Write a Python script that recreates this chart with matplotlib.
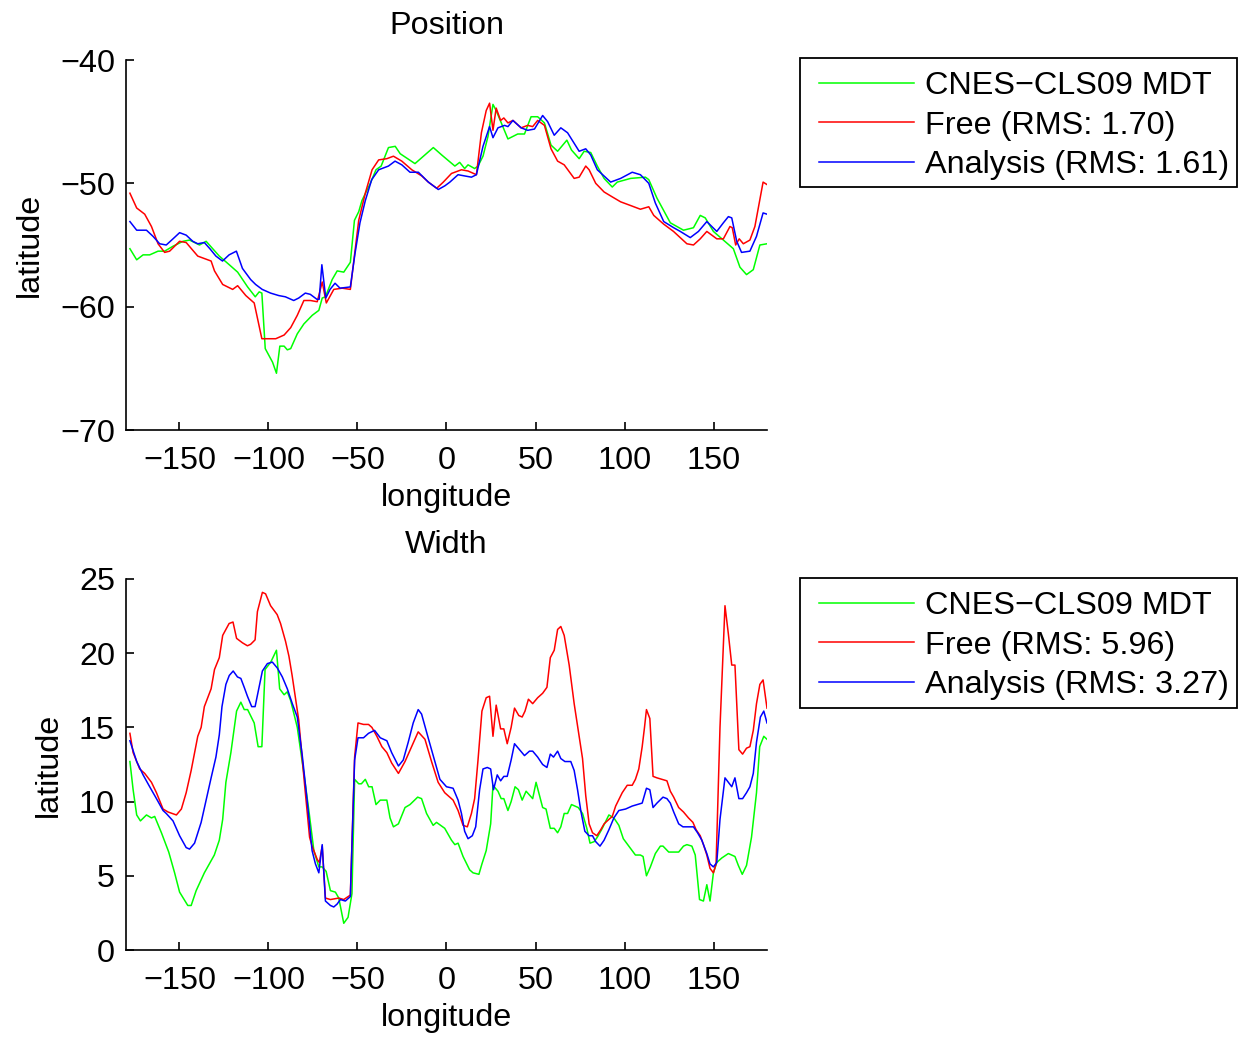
import matplotlib
matplotlib.use("Agg")
import matplotlib.pyplot as plt
from matplotlib.patches import Rectangle

plt.rcParams['font.family'] = ['Liberation Sans', 'DejaVu Sans']

# ---------------- Position (top) ----------------
pos_mdt_lon = [-177.8, -174, -170.4, -166.7, -162, -158.3, -153.6, -148, -144.3, -138.7, -135, -127.6,
               -122, -117.3, -111.7, -107.4, -105.2, -103.7, -101.8, -97.7, -95.5, -93.6, -91.2, -89.4,
               -87.5, -83.8, -80.1, -75.4, -71.7, -69.8, -68, -64.2, -61.4, -57.7, -54, -51.7, -49.3,
               -47.5, -42.8, -39.6, -36.7, -32.6, -28.8, -26, -17.7, -7.4, -2.7, 4.7, 7.4, 10.2, 12.1,
               15.8, 17.7, 20.5, 23.3, 26.1, 27.9, 34.5, 40, 43.8, 47.5, 51.2, 55, 58.7, 62.4, 67.6,
               70.2, 74.5, 77.3, 81, 84.7, 88.5, 93.1, 95.9, 103.4, 111.7, 113.6, 118.2, 125.7, 133.1,
               138.7, 142.5, 145.3, 149.9, 155.5, 161.1, 164.8, 168.5, 172.3, 176, 180]
pos_mdt = [-55.3, -56.2, -55.8, -55.8, -55.5, -55.5, -55.1, -54.7, -54.6, -55, -54.7, -55.9,
           -56.6, -57.2, -58.4, -59.2, -58.8, -58.9, -63.4, -64.5, -65.4, -63.2, -63.2, -63.5,
           -63.4, -62.2, -61.4, -60.7, -60.3, -59.3, -59.2, -57.8, -57.1, -57.2, -56.4, -53, -52.3,
           -51.4, -50, -48.9, -48.6, -47.1, -47, -47.6, -48.4, -47.1, -47.7, -48.6, -48.3, -48.8, -48.5,
           -48.8, -48.6, -47.8, -46.2, -43.6, -44.1, -46.4, -46, -46, -44.6, -44.6, -45.1, -46.9, -47.4, -46.5,
           -47.3, -48, -47.4, -47.5, -48.6, -49.6, -50.3, -49.9, -49.6, -49.5, -49.7, -51.2, -53.2, -53.8,
           -53.6, -52.6, -52.8, -53.9, -54.6, -55.3, -56.8, -57.4, -57, -55, -54.9]

pos_free_lon = [-177.8, -174, -169.5, -165.7, -162, -158.3, -155.5, -149.9, -146.2, -139.7, -132.2, -130.3,
                -125.7, -120.1, -117.3, -112.7, -108, -103.7, -95.9, -91.2, -87.5, -83.8, -80.1, -76.4,
                -72.6, -69.8, -67.5, -63.3, -58.6, -54, -49.3, -45.6, -41.8, -38.1, -33.5, -29.8, -25.1,
                -19.5, -13.9, -10.2, -5.5, -1.8, 2.8, 8.4, 12.1, 16.8, 19.6, 22.3, 24.2, 26.1, 27.9, 30.4,
                32.2, 34.5, 37.3, 41.9, 45.6, 48.4, 51.2, 55, 58.7, 62.4, 66.1, 71.7, 74.5, 78.2, 80.1,
                83.8, 88.5, 93.1, 97.8, 103.4, 108.9, 113.6, 116.4, 121.9, 127.5, 135, 138.7, 142.5,
                146.2, 151.8, 155.5, 159.2, 160.5, 162.4, 164.4, 166.7, 170.4, 173.2, 177.8, 180]
pos_free = [-50.8, -52, -52.5, -53.5, -54.9, -55.6, -55.5, -54.7, -54.8, -55.9, -56.3, -57.1,
            -58.2, -58.6, -58.3, -59.1, -59.7, -62.6, -62.6, -62.3, -61.7, -60.7, -59.5, -59.5,
            -59.6, -58, -59.7, -58.6, -58.5, -58.6, -53, -50.8, -48.9, -48.1, -48, -47.8, -48.2,
            -48.9, -49.4, -49.9, -50.4, -49.9, -49.2, -48.9, -49, -49.3, -45.9, -44.1, -43.5, -45.7, -43.9, -44.9,
            -44.7, -45.1, -44.9, -45.5, -45.3, -45.4, -44.9, -45.3, -47.2, -48.2, -48.5, -49.6, -49.5, -48.6, -48.9,
            -50, -50.7, -51.1, -51.5, -51.8, -52.1, -51.9, -52.6, -53.3, -53.9, -54.9, -55, -54.5,
            -53.9, -54.5, -54.5, -53.5, -53.6, -55, -54.5, -54.9, -54.6, -53.5, -49.9, -50.1]

pos_ana_lon = [-177.8, -174, -168.5, -164.8, -161.1, -157.4, -153.6, -149.9, -146.2, -142.5, -139.7, -136,
               -132.9, -129.5, -125.8, -122.1, -118, -114.6, -110, -107.2, -103.5, -98.8, -94.2, -90.5,
               -85.8, -83, -79.3, -76.5, -72.8, -71.5, -70, -67.8, -65.4, -62.6, -59.8, -54, -51.4, -48.6,
               -45.6, -42, -38.1, -32.6, -28.9, -25.1, -20.5, -15.8, -10.2, -4.6, -0.9, 1.9, 6.5, 10.2, 14,
               16.8, 20.5, 24.2, 26.1, 28.9, 32.6, 34.5, 37.3, 41.9, 45.6, 49.4, 54, 56.8, 60.5, 64.2, 68,
               74.5, 78.2, 81, 84.7, 92.2, 97.8, 104.3, 108.9, 113.6, 117.3, 122, 127.6, 131.3, 136.9,
               141.5, 146.2, 151.8, 155.5, 158.3, 160.2, 163, 165.7, 170.4, 174.1, 177.8, 180]
pos_ana = [-53.1, -53.8, -53.8, -54.3, -54.9, -55, -54.5, -54, -54.2, -54.7, -54.9, -54.8,
           -55.3, -55.9, -56.3, -55.8, -55.5, -56.9, -57.8, -58.2, -58.6, -58.9, -59.1, -59.2,
           -59.5, -59.3, -58.9, -59, -59.4, -59.4, -56.6, -59.3, -58.6, -58.1, -58.5, -58.4, -55.7, -53.2,
           -51.4, -49.7, -48.9, -48.6, -48.2, -48.5, -49.1, -49.1, -49.9, -50.5, -50.2, -49.9, -49.3, -49.4, -49.5,
           -49.3, -47, -45.4, -46.3, -45.5, -45.3, -45.4, -44.9, -45.5, -45.7, -45.6, -44.5, -45, -46.1, -45.5, -45.9,
           -47.4, -47.2, -47.7, -48.9, -49.9, -49.6, -49.1, -49.3, -50, -51.6, -53.1, -53.6, -53.9, -54.4,
           -53.9, -53.1, -53.9, -53.2, -52.7, -52.8, -54.7, -55.6, -55.5, -54.3, -52.4, -52.5]

# ---------------- Width (bottom) ----------------
wid_mdt_lon = [-177.8, -176, -174, -171.9, -168.5, -165.7, -163.9, -160.1, -156, -152.7, -149.9, -145.3,
               -143.4, -140.6, -136, -130.4, -127.6, -125.7, -123.9, -121.1, -117.9, -115.5, -113.6, -111.7,
               -108, -105.8, -103.7, -101.9, -98.7, -95.5, -93.7, -91.2, -89.4, -87.5, -83.8, -80.1, -77.3,
               -74.5, -71.7, -69.8, -67.6, -65.2, -62.4, -60.5, -57.7, -55.3, -53.1, -51.6, -49.3, -47.8,
               -45.6, -43.7, -41.8, -39.6, -37.2, -33.5, -31.7, -29.8, -27, -23.3, -20.5, -16.2, -14, -11.2,
               -7.5, -5.6, -1, 2.8, 4.7, 6.5, 9.3, 13, 14.9, 18.2, 19.9, 22.3, 24.8, 26.1, 28.9, 30.7,
               32.2, 34.5, 36.3, 38.5, 40.4, 42.5, 44.7, 48.4, 50.3, 54, 55.9, 58.3, 60.5, 62.4, 64.2,
               66.1, 68, 70.2, 72.1, 74, 76.4, 78.8, 80.6, 82.9, 84.7, 87.5, 91.2, 94, 96.8, 99.3, 102.4,
               106.1, 108.9, 110.4, 112.3, 114.5, 117.3, 120.1, 121.6, 124.8, 127.6, 130.4, 133.1, 135,
               137.8, 139.7, 140.6, 142.1, 144.3, 146.2, 148, 149.9, 151.8, 154.6, 158.3, 162, 163.9,
               166.1, 168.5, 171.3, 174.1, 175.9, 178.2, 180]
wid_mdt = [12.7, 10.8, 9.1, 8.7, 9.1, 8.9, 9.0, 7.9, 6.6, 5.2, 3.9, 3.0,
           3.0, 4.0, 5.2, 6.4, 7.4, 8.8, 11.3, 13.3, 16.1, 16.7, 16.2, 16.2,
           15.3, 13.7, 13.7, 18.9, 19.4, 20.2, 17.6, 17.2, 17.4, 16.8, 15.0, 11.9, 9.4,
           6.7, 5.6, 5.6, 5.3, 4.0, 3.9, 3.5, 1.8, 2.2, 3.8, 11.5, 11.2, 11.2,
           11.5, 11.0, 11.0, 9.8, 10.1, 10.1, 8.9, 8.3, 8.5, 9.6, 9.8, 10.3, 10.2, 9.2,
           8.4, 8.6, 8.2, 7.4, 7.1, 7.2, 6.3, 5.4, 5.2, 5.1, 5.8, 6.7, 8.5, 11.1, 10.7, 10.2,
           10.2, 9.4, 10.0, 11.0, 10.8, 10.1, 10.7, 10.2, 11.3, 9.6, 9.5, 8.2, 8.2, 7.9, 8.3,
           9.2, 9.2, 9.8, 9.7, 9.6, 9.2, 8.2, 7.2, 7.3, 7.6, 8.2, 9.1, 8.9, 8.4, 7.5, 7.0,
           6.4, 6.4, 6.3, 5.0, 5.6, 6.5, 7.0, 7.0, 6.6, 6.6, 6.6, 7.0, 7.1,
           7.0, 6.4, 5.3, 3.4, 3.3, 4.4, 3.3, 5.2, 5.9, 6.2, 6.5, 6.3, 5.7,
           5.1, 5.7, 7.6, 10.6, 13.7, 14.4, 14.2]

wid_free_lon = [-177.8, -176, -172.3, -169.5, -165.7, -162.9, -159.2, -156.4, -151.7, -148.9, -146.2, -143.4,
                -139.7, -137.8, -136, -132.2, -130.3, -127.6, -125.7, -122.1, -119.9, -117.9, -114.6, -111.8,
                -110, -107.5, -106.2, -103.4, -101.6, -98.8, -95.1, -93.2, -90.4, -88.5, -86.7, -83, -79.6,
                -76.9, -75.5, -72.6, -71.4, -69.8, -68, -65.2, -60.5, -57.7, -54, -51.6, -49.7, -46.6, -43.8,
                -41.9, -39.1, -36.3, -33.5, -30.8, -27, -23.3, -19.6, -15.9, -12.1, -8.4, -4.7, -1, 3.7, 6.5,
                9.3, 11.7, 14, 15.8, 17.7, 19.9, 22.3, 24.2, 26.1, 27.9, 30.4, 32.2, 34.1, 36.3, 38.2, 40.6,
                42.5, 44.1, 46, 48.4, 51.2, 54, 56.4, 58.3, 60.5, 62.4, 64.2, 66.1, 68.9, 71.7, 74, 76.4,
                78.2, 80.1, 82, 84.4, 86.6, 88.5, 91.2, 93.1, 95, 98.7, 101.5, 104.3, 106.1, 108, 109.9,
                111.2, 112.3, 114.2, 116, 118.2, 121, 123.8, 125.7, 127.6, 130.4, 133.1, 135.9, 138.4,
                140.2, 142.5, 144.3, 146.2, 148, 149.9, 151.4, 153.6, 156.4, 158.3, 160.2, 162, 164.2,
                166.3, 168.5, 170.4, 172.3, 174.1, 176, 177.8, 180]
wid_free = [14.6, 13.3, 12.2, 11.9, 11.3, 10.6, 9.5, 9.3, 9.1, 9.5, 10.6, 12.1,
            14.4, 15.0, 16.4, 17.6, 18.9, 19.7, 21.2, 22.0, 22.1, 21.0, 20.7, 20.5,
            20.6, 20.9, 22.8, 24.1, 24.0, 23.2, 22.6, 22.0, 20.8, 19.8, 18.5, 15.5, 11.0,
            7.6, 7.0, 6.1, 5.9, 7.0, 3.5, 3.4, 3.5, 3.4, 3.7, 13.0, 15.3, 15.2, 15.2,
            15.0, 14.4, 13.7, 13.3, 12.6, 11.9, 12.7, 13.7, 14.7, 14.2, 12.7, 11.3, 10.6, 10.1, 9.4,
            8.4, 8.3, 9.2, 10.2, 12.8, 16.1, 17.0, 17.1, 14.4, 16.5, 14.9, 14.9, 13.9, 15.0, 16.3, 15.8,
            15.7, 16.1, 16.9, 16.6, 17.0, 17.3, 17.7, 19.7, 20.2, 21.6, 21.8, 21.2, 19.2, 16.6, 14.8, 12.9,
            10.4, 8.5, 7.9, 7.7, 8.1, 8.5, 8.8, 9.0, 9.7, 10.6, 11.1, 11.1, 11.5, 12.2, 13.7,
            15.0, 16.2, 15.6, 11.7, 11.6, 11.5, 11.4, 10.7, 10.3, 9.6, 9.3, 8.9, 8.6,
            8.1, 7.7, 7.1, 6.4, 5.5, 5.2, 5.8, 15.0, 23.2, 21.3, 19.2, 19.2, 13.5,
            13.2, 13.6, 13.7, 14.8, 16.6, 17.9, 18.2, 16.3]

wid_ana_lon = [-177.8, -174, -170.4, -166.7, -162.9, -159.2, -157.4, -153.6, -149.9, -146.2, -144.3, -141.5,
               -137.8, -135, -132.2, -129.5, -127.6, -126.1, -123.9, -122, -119.8, -117.4, -115.5, -113.6,
               -111.8, -109.4, -107.5, -105.6, -103.4, -100.6, -97.8, -95, -92.2, -89.4, -86.6, -83.8, -81,
               -78.2, -75.5, -73.6, -71.7, -69.8, -68, -65.2, -63.3, -61.4, -59.6, -56.8, -54, -51.6, -49.7,
               -46.6, -43.8, -40.4, -37.2, -33.5, -30.8, -27, -24.3, -21.5, -18.7, -15.9, -14, -10.3, -6.5,
               -3.7, 0, 3.7, 6.5, 8.4, 10.2, 12.1, 14.5, 16.4, 18.6, 20.5, 22.9, 24.8, 26.4, 28.5, 30.4,
               32.2, 34.1, 36.3, 38.2, 41, 43.8, 46.6, 48.4, 51.2, 54, 56.4, 58.3, 60.1, 62.4, 64.2, 66.5,
               69.8, 71.7, 73.6, 75.4, 77.7, 80.1, 82, 83.8, 86.2, 88.5, 91.2, 94, 96.8, 100.6, 104.3, 107,
               109.9, 112.3, 114.2, 116, 118.2, 121.6, 123.8, 125.7, 127.6, 130.4, 132.8, 135.9, 138.7,
               141, 143.4, 146.2, 148, 149.9, 151.8, 153.6, 156.4, 158.3, 160.2, 162, 164.2, 166.3, 168.5,
               170.4, 172.3, 174.1, 176.3, 178.2, 180]
wid_ana = [14.1, 12.7, 11.8, 11.0, 10.2, 9.4, 9.2, 8.7, 7.7, 6.9, 6.8, 7.2,
           8.6, 10.1, 11.6, 13.0, 14.5, 16.4, 17.9, 18.5, 18.8, 18.4, 18.3, 17.7,
           17.1, 16.4, 16.4, 17.5, 18.8, 19.3, 19.4, 19.0, 18.4, 17.6, 16.6, 15.7, 13.1,
           10.0, 6.7, 5.8, 5.2, 7.1, 3.3, 3.0, 2.9, 3.1, 3.4, 3.3, 3.6, 12.8, 14.3,
           14.3, 14.6, 14.8, 14.3, 14.1, 13.3, 12.4, 12.8, 14.0, 15.3, 16.2, 15.9, 14.3, 12.7,
           11.5, 11.0, 10.9, 10.1, 9.2, 8.0, 7.5, 7.7, 8.3, 10.8, 12.2, 12.3, 12.2, 10.8, 11.8, 11.4,
           11.7, 11.7, 12.8, 13.9, 13.5, 13.1, 13.4, 13.4, 13.0, 12.5, 12.3, 13.2, 13.0, 13.4, 12.9, 12.7,
           12.7, 12.1, 10.8, 9.4, 8.0, 7.7, 7.7, 7.3, 7.0, 7.4, 8.1, 8.9, 9.4, 9.5, 9.7, 9.8,
           9.9, 10.9, 10.8, 9.6, 9.9, 10.3, 10.2, 9.9, 9.3, 8.5, 8.3, 8.3, 8.3,
           7.9, 7.4, 6.5, 5.8, 5.6, 5.9, 8.8, 11.6, 11.3, 11.0, 11.6, 10.2, 10.2, 10.6,
           11.0, 11.9, 14.0, 15.7, 16.1, 15.3]

labels_pos = ['CNES\u2212CLS09 MDT', 'Free (RMS: 1.70)', 'Analysis (RMS: 1.61)']
labels_wid = ['CNES\u2212CLS09 MDT', 'Free (RMS: 5.96)', 'Analysis (RMS: 3.27)']
colors = ['#00ff00', '#ff0000', '#0000ff']

W, H = 1238, 1041
fig = plt.figure(figsize=(W / 100, H / 100), dpi=100)
FS = 23.3

def fx(px):
    return px / W

def fy(py):
    return 1 - py / H

def style(ax, yticks, ylim, title):
    ax.set_xlim(-180, 180)
    ax.set_ylim(*ylim)
    ax.set_xticks([-150, -100, -50, 0, 50, 100, 150])
    ax.set_yticks(yticks)
    ax.spines['top'].set_visible(False)
    ax.spines['right'].set_visible(False)
    for s in ('left', 'bottom'):
        ax.spines[s].set_linewidth(1.2)
    ax.tick_params(direction='in', length=6, width=1.2, labelsize=FS)
    ax.tick_params(axis='x', pad=11.5)
    ax.tick_params(axis='y', pad=8)
    ax.set_xlabel('longitude', fontsize=FS, labelpad=5)
    ax.set_ylabel('latitude', fontsize=FS, labelpad=11)
    ax.set_title(title, fontsize=FS, pad=19)

ax1 = fig.add_axes([fx(126), fy(430), fx(767) - fx(126), fy(60) - fy(430)])
ax1.plot(pos_mdt_lon, pos_mdt, color=colors[0], lw=1.1, label=labels_pos[0])
ax1.plot(pos_free_lon, pos_free, color=colors[1], lw=1.1, label=labels_pos[1])
ax1.plot(pos_ana_lon, pos_ana, color=colors[2], lw=1.1, label=labels_pos[2])
style(ax1, [-70, -60, -50, -40], (-70, -40), 'Position')

ax2 = fig.add_axes([fx(126), fy(950), fx(767) - fx(126), fy(579) - fy(950)])
ax2.plot(wid_mdt_lon, wid_mdt, color=colors[0], lw=1.1, label=labels_wid[0])
ax2.plot(wid_free_lon, wid_free, color=colors[1], lw=1.1, label=labels_wid[1])
ax2.plot(wid_ana_lon, wid_ana, color=colors[2], lw=1.1, label=labels_wid[2])
style(ax2, [0, 5, 10, 15, 20, 25], (0, 25), 'Width')

fspx = FS * 100 / 72.0
for ax, top in ((ax1, 58), (ax2, 578)):
    leg = ax.legend(loc='upper left',
                    bbox_to_anchor=(fx(819), fy(top + 13)),
                    bbox_transform=fig.transFigure,
                    fontsize=FS, frameon=False, handlelength=95 / fspx,
                    handletextpad=11 / fspx, labelspacing=0.3, borderpad=0, borderaxespad=0)
    for l in leg.get_lines():
        l.set_linewidth(1.1)
    fig.patches.append(Rectangle((fx(799.5), fy(top + 129.5)), fx(1236.5) - fx(799.5),
                                 fy(top) - fy(top + 129.5), transform=fig.transFigure,
                                 fill=False, edgecolor='black', linewidth=1.3))

fig.savefig('out.png', dpi=100)
